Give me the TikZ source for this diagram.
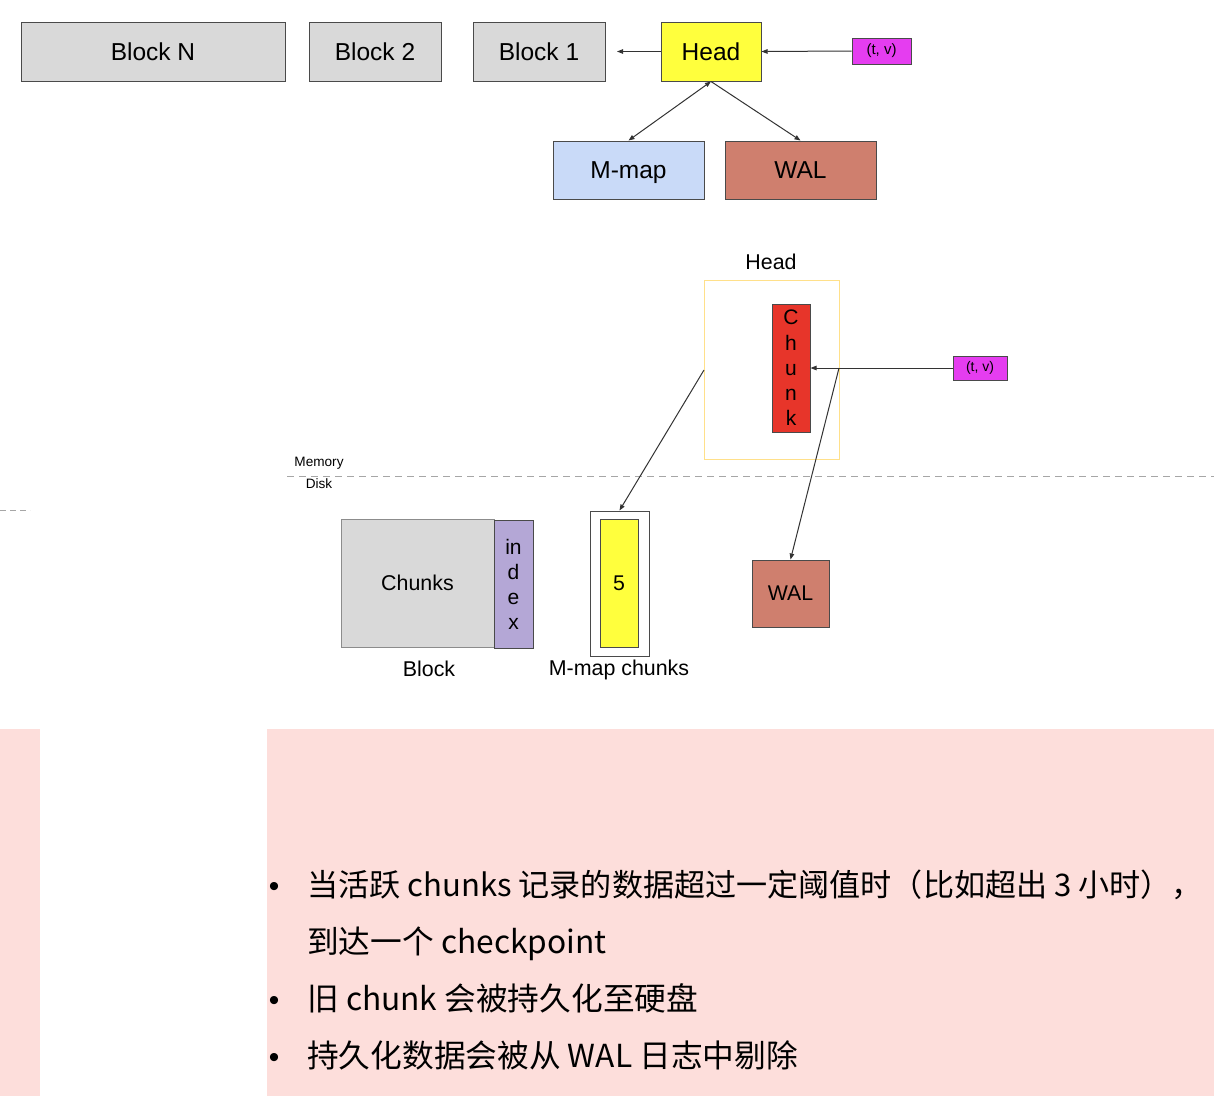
\documentclass[tikz,border=0pt]{standalone}
\usepackage{fontspec}
\setmainfont{Liberation Sans}
\newfontfamily\cjk{Noto Sans CJK SC}
\usetikzlibrary{arrows.meta}
\definecolor{blockgray}{HTML}{D9D9D9}
\definecolor{edgegray}{HTML}{4A4A4A}
\definecolor{lightedge}{HTML}{8C8C8C}
\definecolor{headyellow}{HTML}{FFFF3D}
\definecolor{tvmag}{HTML}{E53DF0}
\definecolor{mmapblue}{HTML}{C9DAF8}
\definecolor{walred}{HTML}{CF7F6E}
\definecolor{chunkred}{HTML}{E7352A}
\definecolor{idxpurple}{HTML}{B4A7D6}
\definecolor{contyellow}{HTML}{FFE08A}
\definecolor{pinkbg}{HTML}{FDDEDB}
\definecolor{linecol}{HTML}{333333}
\definecolor{dashgray}{HTML}{A6A6A6}
\tikzset{
  box/.style={draw=edgegray, line width=1pt, inner sep=0pt, text height=17.6pt, text depth=0pt, font=\fontsize{24.5}{28}\selectfont},
  midbox/.style={draw=edgegray, line width=1pt, inner sep=0pt, font=\fontsize{21.3}{25}\selectfont},
  tvbox/.style={draw=edgegray, line width=1pt, fill=tvmag, inner sep=0pt, minimum height=26pt, font=\fontsize{15}{17}\selectfont},
  lbl/.style={inner sep=0pt, font=\fontsize{21.4}{25}\selectfont},
  small/.style={inner sep=0pt, font=\fontsize{13.6}{16}\selectfont},
  arr/.style={-{Triangle[length=6pt,width=4.5pt]}, line width=1pt, draw=linecol},
  dbl/.style={{Triangle[length=6pt,width=4.5pt]}-{Triangle[length=6pt,width=4.5pt]}, line width=1pt, draw=linecol},
  sep/.style={draw=dashgray, line width=1pt, dash pattern=on 7pt off 5pt},
  bul/.style={inner sep=0pt, anchor=base west, font=\cjk\fontsize{31.7}{36}\selectfont},
  dot/.style={inner sep=0pt, anchor=base, font=\fontsize{30}{34}\selectfont}
}
\begin{document}
\begin{tikzpicture}[x=1pt,y=-1pt]
\useasboundingbox (0,0) rectangle (1214,1096);
\fill[white] (0,0) rectangle (1214,1096);
\fill[pinkbg] (0,729) rectangle (40,1096);
\fill[pinkbg] (267,729) rectangle (1214,1096);

% top row
\node[box, fill=blockgray, minimum width=264pt, minimum height=59pt] (bn) at (153,51.5) {Block N};
\node[box, fill=blockgray, minimum width=132pt, minimum height=59pt] (b2) at (375,51.5) {Block 2};
\node[box, fill=blockgray, minimum width=132pt, minimum height=59pt] (b1) at (539,51.5) {Block 1};
\node[box, fill=headyellow, minimum width=100pt, minimum height=59pt] (head) at (711,51.5) {Head};
\node[tvbox, minimum width=59pt] (tv1) at (881.5,51) {(t, v)};
\node[box, fill=mmapblue, minimum width=151pt, minimum height=58pt] (mmap) at (628.5,170) {M-map};
\node[box, fill=walred, minimum width=151pt, minimum height=58pt] (wal) at (800.5,170) {WAL};
\coordinate (b1tip) at (617,51.5);
\draw[arr] (tv1.west) -- (head.east);
\draw[arr] (head.west) -- (b1tip);
\draw[dbl] (head.south) -- (mmap.north);
\draw[arr] (head.south) -- (wal.north);

% head in memory
\node[lbl] (headlbl) at (771,262) {Head};
\node[draw=contyellow, line width=1pt, inner sep=0pt, minimum width=135pt, minimum height=179pt] (cont) at (771.5,369.5) {};
\node[midbox, fill=chunkred, minimum width=38pt, minimum height=128pt, align=center, font=\fontsize{21}{25.3}\selectfont] (chunk) at (791,368) {C\\h\\u\\n\\k};
\node[tvbox, minimum width=54pt, minimum height=24pt, font=\fontsize{14}{16}\selectfont] (tv2) at (980,368) {(t, v)};
\draw[arr] (tv2.west) -- (chunk.east |- tv2.west);

% memory / disk
\coordinate (sepA) at (287,476);
\coordinate (sepB) at (1214,476);
\draw[sep] (sepA) -- (sepB);
\coordinate (sepC) at (0,510);
\coordinate (sepD) at (30,510);
\draw[sep, line width=0.8pt, dash pattern=on 6pt off 4pt] (sepC) -- (sepD);
\node[small] (mem) at (319,463) {Memory};
\node[small] (disk) at (319,484) {Disk};

% disk side
\node[draw=lightedge, line width=1pt, fill=blockgray, inner sep=0pt, minimum width=153pt, minimum height=128pt, font=\fontsize{21.4}{25}\selectfont] (chunks) at (417.5,583) {Chunks};
\node[midbox, fill=idxpurple, minimum width=39pt, minimum height=128pt, align=center, font=\fontsize{21}{25}\selectfont] (idx) at (513.5,584) {in\\d\\e\\x};
\node[lbl] (blocklbl) at (429,669) {Block};
\node[draw=edgegray, line width=1pt, fill=white, inner sep=0pt, minimum width=59pt, minimum height=145pt] (mmc) at (619.5,583.5) {};
\node[midbox, fill=headyellow, minimum width=38pt, minimum height=128pt] (five) at (619,583) {5};
\node[lbl] (mmclbl) at (619,670) {M-map chunks};
\node[midbox, fill=walred, minimum width=77pt, minimum height=67pt] (wal2) at (790.5,593.5) {WAL};
\coordinate (contL) at (704,370);
\coordinate (contR) at (839,368);
\draw[arr] (contL) -- (mmc.north);
\draw[arr] (contR) -- (wal2.north);

% bullet text
\node[dot] (d1) at (274,896) {•};
\node[dot] (d2) at (274,1010) {•};
\node[dot] (d3) at (274,1067) {•};
\node[bul, font=\cjk\fontsize{31.1}{36}\selectfont] (t1) at (307,896) {当活跃 chunks 记录的数据超过一定阈值时（比如超出 3 小时），};
\node[bul] (t2) at (307,953) {到达一个 checkpoint};
\node[bul] (t3) at (307,1010) {旧 chunk 会被持久化至硬盘};
\node[bul] (t4) at (307,1067) {持久化数据会被从 WAL 日志中剔除};
\end{tikzpicture}
\end{document}
